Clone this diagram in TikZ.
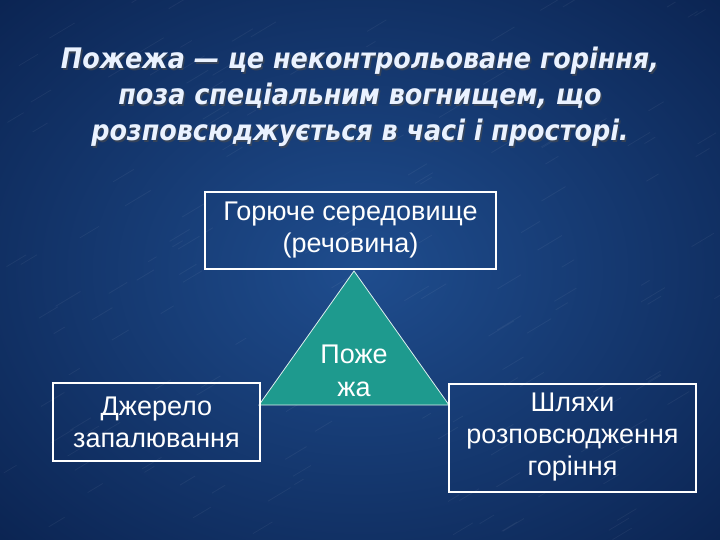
\documentclass[tikz,border=0pt]{standalone}
\usepackage{fontspec}
\setmainfont{Liberation Sans}
\newfontfamily\titlefont{DejaVu Sans Condensed}
\usetikzlibrary{shadings}
\definecolor{bgdark}{HTML}{0B2452}
\definecolor{bgmid}{HTML}{1F4D8E}
\definecolor{teal}{HTML}{1E9A8E}
\definecolor{titlecol}{HTML}{EAF2FF}
\tikzset{
  box/.style={draw=white, line width=2pt, text=white, align=center, font=\fontsize{27}{32}\selectfont, inner sep=0pt},
  ttl/.style={text=titlecol, align=center, font=\titlefont\bfseries\itshape\fontsize{28.3}{36}\selectfont},
  ttlshadow/.style={text=black!70, opacity=0.6, align=center, font=\titlefont\bfseries\itshape\fontsize{28.3}{36}\selectfont},
}
\begin{document}
\begin{tikzpicture}[x=1pt,y=-1pt]
\useasboundingbox (0,0) rectangle (720,540);
\shade[inner color=bgmid, outer color=bgdark] (-150,-120) rectangle (870,660);
% subtle texture
\foreach \i in {1,...,160}{
  \pgfmathsetmacro{\xx}{rnd*720}
  \pgfmathsetmacro{\yy}{rnd*540}
  \pgfmathsetmacro{\ll}{8+rnd*18}
  \draw[white, opacity=0.05, line width=0.8pt] (\xx,\yy) -- ++(\ll,-0.6*\ll);
}
\node[ttlshadow] at (361.5,98.5) {Пожежа — це неконтрольоване горіння,\\поза спеціальним вогнищем, що\\розповсюджується в часі і просторі.};
\node[ttl] (title) at (360,97) {Пожежа — це неконтрольоване горіння,\\поза спеціальним вогнищем, що\\розповсюджується в часі і просторі.};
\node[box, minimum width=291pt, minimum height=77pt] (top) at (350.5,230.5) {Горюче середовище\\(речовина)};
\coordinate (apex) at (354,271);
\coordinate (bl) at (259,405);
\coordinate (br) at (449,405);
\fill[teal] (apex) -- (bl) -- (br) -- cycle;
\draw[white!85!teal, line width=0.8pt] (apex) -- (bl) -- (br) -- cycle;
\node[text=white, align=center, font=\fontsize{27}{33}\selectfont] (fire) at (354,371) {Поже\\жа};
\node[box, minimum width=207pt, minimum height=78pt] (left) at (156.5,422) {Джерело\\запалювання};
\node[box, minimum width=247pt, minimum height=108pt] (right) at (572.5,437.5) {Шляхи\\розповсюдження\\горіння};
\end{tikzpicture}
\end{document}
